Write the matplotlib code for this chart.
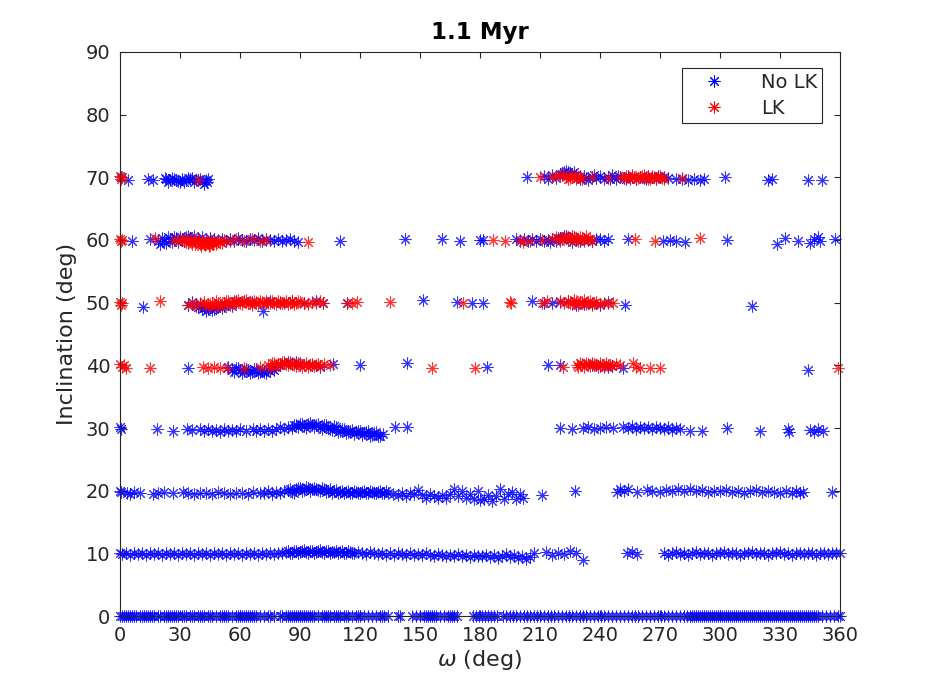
import numpy as np
import matplotlib.pyplot as plt

# (omega, inclination) pairs, one list per band
blue_70 = [(0.5, 70.0), (4, 69.6), (14, 69.7), (16.5, 69.6), (23, 69.8), (25, 69.5), (27, 69.7),
           (29, 69.4), (30, 69.3), (31, 69.8), (33, 69.5), (35, 69.7), (36, 69.9), (37, 69.3),
           (39, 69.6), (41, 69.4), (42, 69.0), (43, 69.5),
           (203.5, 70.1), (212, 70.2), (214, 69.8), (216, 70.4), (218, 69.9), (220, 70.6),
           (222, 70.8), (224, 70.9), (226, 70.6), (228, 70.3), (230, 69.8), (232, 70.2),
           (234, 69.6), (236, 70.1), (238, 69.9), (240, 70.2), (242, 69.7), (244, 70.0),
           (246, 70.3), (248, 69.8), (250, 70.1), (252, 69.9), (254, 70.2), (256, 70.0),
           (258, 69.8), (260, 70.1), (262, 69.9), (264, 70.2), (266, 70.0), (268, 69.8),
           (270, 70.1), (272, 70.0), (274, 69.9), (278, 69.7), (281, 69.8), (284, 69.6),
           (287, 69.7), (290, 69.6), (292, 69.7), (302.5, 70.0), (324, 69.6), (326, 69.8),
           (344, 69.6), (351, 69.6)]
blue_70_dense = [(22.5, 69.9), (24, 69.3), (26, 69.9), (28, 69.6), (32, 69.2), (34, 69.9),
                 (38, 69.5), (40, 69.8), (43.5, 69.2), (44, 69.7),
                 (221, 70.5), (223, 71.0), (225, 70.4), (227, 70.8), (229, 70.1), (233, 69.9),
                 (237, 70.3), (245, 69.7), (249, 70.2), (253, 69.7), (263, 69.8), (269, 70.2)]
red_70 = [(0, 70.2), (0.5, 69.7), (1, 70.0), (39, 69.5), (210, 70.1), (216, 70.0), (220, 70.3),
          (223, 70.1), (225, 69.9), (227, 70.2), (229, 70.0), (231, 69.8), (236, 70.0),
          (244, 69.9), (250, 70.0), (253, 70.2), (255, 69.8), (257, 70.1), (259, 69.9),
          (261, 70.2), (263, 70.0), (265, 69.8), (267, 70.1), (269, 70.0), (271, 69.9),
          (281, 69.9)]
red_70_dense = [(218, 70.2), (222, 70.5), (224, 69.8), (226, 70.4), (228, 69.7), (230, 70.2),
                (252, 69.9), (254, 70.1), (256, 70.3), (258, 69.7), (260, 70.0), (262, 70.3),
                (264, 69.7), (266, 70.2), (268, 69.9), (270, 70.2), (272, 69.8)]

blue_60 = [(6, 59.9), (15, 60.2), (19, 59.8), (21, 60.3), (23, 59.5), (25, 60.1), (27, 60.4),
           (29, 59.7), (31, 60.2), (33, 60.5), (35, 60.3), (37, 60.6), (39, 60.0), (41, 60.4),
           (43, 59.8), (45, 60.3), (47, 60.1), (49, 60.0), (51, 60.2), (53, 59.9), (55, 60.1),
           (57, 59.8), (59, 60.3), (61, 60.0), (63, 59.9), (65, 60.2), (67, 60.0), (69, 60.3),
           (71, 59.9), (73, 60.1), (75, 60.0), (77, 59.8), (79, 60.1), (81, 59.9), (83, 60.0),
           (85, 60.1), (87, 59.8), (89, 59.7), (110, 59.8), (142.5, 60.1), (161, 60.1),
           (170, 59.9), (180, 60.0),
           (181.5, 60.0), (198, 60.1), (200, 59.8), (202, 60.2), (204, 59.9), (206, 60.1),
           (208, 59.8), (210, 60.2), (212, 59.9), (214, 60.0), (216, 60.2), (218, 59.8),
           (220, 60.3), (222, 60.6), (224, 60.4), (226, 59.7), (228, 60.1), (230, 59.8),
           (232, 60.2), (234, 60.0), (236, 59.9), (238, 60.1), (240, 60.2), (242, 59.9),
           (244, 60.1), (254, 60.2), (271.5, 59.9), (275, 60.0), (278, 59.9), (282.5, 59.7),
           (303.5, 60.0), (328.5, 59.4), (332.5, 60.3), (339, 59.8), (345, 59.5), (347, 60.1),
           (349, 60.4), (350, 59.9), (357.5, 60.1)]
blue_60_dense = [(20, 59.4), (22, 59.9), (24, 60.5), (26, 59.6), (28, 60.3), (30, 60.5),
                 (32, 59.9), (34, 60.6), (215, 59.7), (219, 60.3), (221, 60.1), (223, 60.7),
                 (225, 60.1), (227, 60.5)]
red_60 = [(0, 60.1), (0.5, 59.8), (1, 60.0), (17.5, 60.3), (27, 60.0), (29, 59.8), (31, 60.2),
          (33, 59.7), (35, 59.9), (36, 59.4), (37, 60.1), (38, 59.6), (39, 59.8), (40, 59.3),
          (41, 59.7), (42, 59.4), (43, 59.9), (44, 59.5), (45, 59.2), (46, 59.6), (47, 59.9),
          (48, 59.4), (50, 59.7), (52, 60.0), (55, 59.9), (58, 60.1), (62, 59.8), (66, 60.1),
          (70, 59.9), (73, 60.0), (94, 59.7),
          (186.5, 60.0), (192.5, 59.8), (200, 60.0), (201.5, 59.6), (205, 59.9), (211, 60.0),
          (216, 60.1), (218, 60.4), (220, 59.9), (222, 60.5), (224, 60.2), (226, 60.6),
          (228, 60.0), (230, 60.4), (232, 59.8), (234, 60.2), (236, 59.9), (257.5, 60.1),
          (267.5, 59.8), (290, 60.3)]
red_60_dense = [(32, 60.1), (34, 59.5), (35.5, 60.2), (37.5, 59.3), (39.5, 60.0), (40.5, 59.1),
                (41.5, 59.9), (42.5, 59.2), (43.5, 59.6), (44.5, 59.1), (45.5, 59.8),
                (46.5, 59.3), (49, 59.8), (51, 59.5),
                (221, 60.3), (223, 60.7), (225, 60.0), (227, 60.4), (229, 59.8), (231, 60.3),
                (233, 60.6), (235, 60.1)]

blue_50 = [(11.5, 49.3), (34, 49.7), (36, 50.1), (38, 49.5), (40, 49.8), (42, 49.2), (44, 49.0),
           (46, 48.8), (48, 49.2), (50, 49.6), (52, 49.4), (54, 49.8), (56, 49.5), (58, 50.2),
           (62, 50.3), (66, 50.1), (71.5, 48.6), (75, 50.2), (80, 50.0), (86, 50.3), (92, 49.9),
           (98, 50.2), (101.5, 50.0), (113.5, 49.9), (151.5, 50.5), (168.5, 50.1), (176, 50.0),
           (181.7, 50.0), (206, 50.2), (212, 50.0), (216, 49.9), (220, 50.1), (224, 50.3),
           (228, 49.6), (232, 49.8), (236, 50.0), (240, 49.7), (244, 50.1), (252.5, 49.7),
           (316, 49.4)]
blue_50_dense = [(39, 49.3), (41, 49.0), (43, 48.7), (45, 49.3), (47, 49.0), (49, 49.4),
                 (51, 49.1)]
red_50 = [(0, 50.1), (0.5, 49.7), (1, 50.0), (20, 50.2), (34, 49.6), (36, 50.0), (38, 49.4),
          (40, 49.9), (42, 50.1), (44, 49.6), (46, 49.9), (48, 50.2), (50, 49.7), (52, 50.0),
          (54, 50.3), (56, 49.8), (58, 50.1), (60, 49.9), (62, 50.2), (64, 50.0), (66, 49.7),
          (68, 50.1), (70, 50.3), (72, 49.9), (74, 50.0), (76, 50.2), (78, 49.8), (80, 50.1),
          (82, 50.0), (84, 49.8), (86, 50.2), (88, 49.9), (90, 50.1), (92, 50.0), (94, 49.8),
          (96, 50.1), (98, 50.0), (100, 50.2), (101.5, 49.9), (113.5, 50.0), (116, 49.9),
          (118.5, 50.1), (135, 50.1), (171.5, 49.9),
          (195, 50.1), (195.5, 49.9), (211, 49.9), (213.5, 50.2), (220, 50.2), (222, 50.0),
          (224, 50.3), (226, 49.8), (228, 50.2), (230, 49.9), (232, 50.4), (234, 50.0),
          (236, 49.7), (238, 50.1), (240, 49.8), (242, 50.0), (244, 49.9), (246.5, 50.0)]
red_50_dense = [(43, 49.4), (45, 49.8), (47, 49.3), (49, 49.9), (51, 49.5), (53, 50.3),
                (55, 49.7), (57, 50.2), (59, 50.4), (61, 49.8), (63, 50.4), (65, 49.9),
                (67, 50.2), (69, 49.8), (71, 50.1), (73, 50.2), (75, 49.9), (77, 50.0),
                (79, 50.3), (81, 49.9), (83, 50.2), (85, 50.0), (87, 49.8), (89, 50.2),
                (225, 50.0), (227, 50.4), (229, 49.7), (231, 50.1), (233, 49.8), (235, 50.3),
                (237, 49.9)]

blue_40 = [(34, 39.6), (54, 39.7), (56, 39.3), (58, 39.5), (60, 39.2), (62, 39.1), (64, 39.3),
           (66, 38.9), (68, 39.2), (70, 39.0), (72, 38.9), (74, 39.3), (76, 39.5), (78, 39.8),
           (80, 40.1), (82, 40.4), (84, 40.6), (86, 40.2), (88, 40.5), (90, 40.0), (96, 40.1),
           (100, 39.8), (106.5, 40.2), (120, 40.0), (143.5, 40.4),
           (183.5, 39.8), (214, 40.0), (220, 40.0), (236, 40.1), (240, 39.9), (244, 39.7),
           (246, 39.9), (251.5, 39.6), (344, 39.3)]
blue_40_dense = [(57, 38.9), (59, 39.6), (61, 38.8), (63, 39.4), (65, 38.7), (67, 39.4),
                 (69, 38.8), (71, 39.3), (73, 38.7), (75, 39.1), (77, 39.2)]
red_40 = [(0, 40.2), (1, 39.8), (2, 40.0), (3, 39.6), (15, 39.5), (41.5, 39.7), (44, 39.6),
          (47, 39.7), (50, 39.5), (53.5, 39.6), (62, 39.6), (70, 39.8), (74, 40.0), (76, 40.3),
          (78, 39.9), (80, 40.2), (82, 40.5), (84, 40.1), (86, 40.4), (88, 39.9), (90, 40.3),
          (92, 40.1), (94, 39.8), (96, 40.2), (98, 40.0), (100, 39.9), (102, 40.2), (105, 40.0),
          (156, 39.6), (177.5, 39.6),
          (221.5, 39.8), (228.5, 40.0), (230, 40.3), (232, 39.8), (234, 40.2), (236, 40.4),
          (238, 40.0), (240, 40.3), (242, 39.8), (244, 40.1), (246, 39.9), (248, 40.2),
          (250, 40.0), (256.5, 40.4), (258, 39.8), (260, 39.6), (265, 39.5), (270, 39.5),
          (359, 39.6)]
red_40_dense = [(75, 39.6), (77, 40.4), (79, 40.0), (81, 40.6), (83, 40.2), (85, 40.6),
                (87, 40.1), (89, 40.4), (91, 39.8), (93, 40.3), (95, 40.0), (97, 39.9),
                (99, 40.2), (229, 39.7), (231, 40.2), (233, 40.4), (235, 39.9), (237, 40.2),
                (239, 39.8), (241, 40.1), (243, 40.3), (245, 40.0)]

blue_30 = [(0, 30.1), (0.5, 29.9), (18.5, 29.9), (26.5, 29.6), (33.5, 29.8), (36, 29.7),
           (40, 29.8), (42, 29.5), (44, 29.9), (46, 29.6), (48, 29.7), (50, 29.4), (52, 29.8),
           (54, 29.5), (56, 29.7), (58, 29.6), (60, 29.9), (63, 29.5), (66.5, 29.8), (68, 29.6),
           (70, 29.9), (72, 29.5), (74, 29.8), (76, 29.6), (78, 29.9), (80, 30.1), (82, 29.8),
           (84, 30.2), (86, 30.0), (88, 30.4), (90, 30.6), (92, 30.3), (94, 30.7), (96, 30.4),
           (98, 30.5), (100, 30.2), (102, 30.4), (104, 30.0), (106, 29.7), (108, 30.1),
           (110, 29.6), (112, 29.9), (114, 29.4), (116, 29.7), (118, 29.3), (120, 29.6),
           (122, 29.2), (124, 29.5), (126, 28.9), (128, 29.4), (130, 28.7), (131.5, 29.1),
           (137.5, 30.2), (143.5, 30.2),
           (220, 30.0), (226, 29.8), (231.5, 30.0), (234, 30.1), (237, 29.9), (240, 30.0),
           (243, 30.2), (246.5, 30.0), (251.5, 30.2), (254, 30.0), (256, 30.3), (258, 29.9),
           (260, 30.2), (262, 30.0), (264, 30.1), (266, 29.8), (268, 30.1), (270, 30.0),
           (272, 29.9), (274, 30.2), (276, 29.7), (278, 30.0), (280, 29.8), (285, 29.6),
           (291, 29.5), (303.5, 30.0), (320, 29.5), (334, 29.8), (334.5, 29.3), (345, 29.7),
           (347, 29.4), (349, 29.8), (351.5, 29.6)]
blue_30_dense = [(87, 30.5), (89, 30.1), (91, 30.7), (93, 30.0), (95, 30.8), (97, 30.2),
                 (99, 30.6), (101, 29.9), (103, 30.5), (105, 29.9), (107, 30.3), (109, 29.4),
                 (111, 29.8), (113, 29.2), (115, 29.5), (117, 29.0), (119, 29.5), (121, 28.9),
                 (123, 29.3), (125, 28.8), (127, 29.2), (129, 28.8)]

blue_20 = [(0, 20.0), (0.5, 19.8), (3.5, 19.7), (5, 19.5), (7, 19.8), (10, 19.6), (16.5, 19.4),
           (19, 19.6), (22, 19.8), (26.5, 19.7), (31.5, 19.8), (34, 19.6), (37, 19.4), (40, 19.7),
           (43, 19.6), (46, 19.5), (49, 19.8), (52, 19.6), (55, 19.5), (58, 19.7), (61, 19.6),
           (64, 19.4), (66.5, 19.8), (70, 19.7), (72, 19.6), (74, 19.9), (76, 19.5), (78, 19.8),
           (80, 19.6), (82, 19.9), (84, 20.1), (86, 19.8), (88, 20.2), (90, 20.4), (92, 20.1),
           (94, 20.5), (96, 20.2), (98, 20.3), (100, 19.9), (102, 20.2), (104, 20.0),
           (106, 19.7), (108, 20.1), (110, 19.8), (112, 19.6), (114, 19.9), (116, 19.7),
           (118, 19.8), (120, 19.6), (122, 19.9), (124, 19.7), (126, 19.8), (128, 19.6),
           (130, 19.9), (132, 19.7), (134, 19.6), (136.5, 19.5), (139, 19.3), (141, 19.6),
           (143, 19.2), (145, 19.7), (147, 19.4), (149, 20.1), (151, 19.3), (153, 18.9),
           (155, 19.4), (157, 19.1), (159, 18.8), (161, 19.3), (163, 18.9), (165, 19.5),
           (167, 20.2), (169, 19.1), (171, 20.0), (173, 18.8), (175, 19.4), (177, 18.6),
           (179, 19.9), (180, 18.5),
           (182, 18.7), (184, 19.3), (186, 18.4), (188, 19.1), (190, 20.3), (192, 18.7),
           (194, 19.5), (196, 19.8), (198, 18.6), (200, 19.4), (201.5, 18.9), (211, 19.3),
           (227.5, 19.9), (248.5, 19.8), (250, 20.3), (252, 19.9), (254, 20.2), (258.5, 19.8),
           (263.5, 20.1), (266, 19.9), (270, 19.8), (273, 20.1), (276, 19.9), (279, 20.2),
           (282, 20.0), (285, 20.2), (288, 19.9), (291, 20.1), (294, 19.8), (297, 20.0),
           (300, 19.9), (303, 20.1), (306, 19.8), (309, 20.0), (312, 19.7), (315, 19.9),
           (318, 20.1), (321, 19.8), (324, 20.0), (327, 19.8), (330, 19.6), (333, 19.9),
           (336, 19.7), (338, 19.9), (340, 19.6), (341.5, 19.8), (356, 19.8)]
blue_20_dense = [(85, 20.3), (87, 19.7), (89, 20.4), (91, 20.0), (93, 20.6), (95, 19.9),
                 (97, 20.4), (99, 20.1), (101, 20.4), (103, 19.8), (105, 20.2), (107, 19.9),
                 (109, 19.7), (111, 20.0), (113, 19.8), (115, 19.6), (117, 20.0), (119, 19.7),
                 (121, 19.8), (123, 19.6), (125, 19.9), (127, 19.7), (129, 19.8), (131, 19.6),
                 (133, 19.9)]

blue_10 = [(0, 10.0), (1, 9.9), (3, 10.0), (5, 9.8), (7, 10.1), (9, 9.9), (11, 10.0), (13, 9.8),
           (15, 10.1), (17, 9.9), (19, 10.0), (21, 9.8), (23, 10.1), (25, 9.9), (27, 10.0),
           (29, 9.8), (31, 10.1), (33, 9.9), (35, 10.0), (37, 9.8), (39, 10.1), (41, 9.9),
           (43, 10.0), (45, 9.8), (47, 10.1), (49, 9.9), (51, 10.0), (53, 9.8), (55, 10.1),
           (57, 9.9), (59, 10.0), (61, 9.8), (63, 10.1), (65, 9.9), (67, 10.0), (69, 9.8),
           (71, 10.1), (73, 9.9), (75, 10.0), (77, 9.9), (79, 10.1), (81, 10.0), (83, 10.2),
           (85, 10.1), (87, 10.3), (89, 10.1), (91, 10.4), (93, 10.2), (95, 10.3), (97, 10.1),
           (99, 10.4), (101, 10.2), (103, 10.3), (105, 10.1), (107, 10.2), (109, 10.0),
           (111, 10.3), (113, 10.1), (115, 10.2), (117, 10.0), (119, 10.2), (121, 10.1),
           (123, 9.9), (125, 10.2), (127, 10.0), (129, 9.9), (131, 10.1), (133, 9.8),
           (135, 10.0), (137, 9.8), (139, 10.1), (141, 9.9), (143, 9.7), (145, 10.0),
           (147, 9.8), (149, 9.9), (151, 9.7), (153, 10.0), (155, 9.8), (157, 9.6), (159, 9.9),
           (161, 9.7), (163, 9.5), (165, 9.8), (167, 9.6), (169, 9.9), (171, 9.5), (173, 9.7),
           (175, 9.4), (177, 9.8), (179, 9.6),
           (181, 9.5), (183, 9.8), (185, 9.4), (187, 9.7), (189, 9.3), (191, 9.6), (193, 9.9),
           (195, 9.4), (197, 9.7), (199, 9.2), (201, 9.5), (203, 9.1), (205, 9.4), (207, 10.1),
           (213, 10.2), (216, 9.8), (219, 10.0), (222, 9.9), (225, 10.3), (228, 10.0),
           (231.5, 9.0), (253.5, 10.0), (256, 10.2), (258.5, 9.9), (272, 10.1), (274, 9.8),
           (276, 10.0), (278, 10.2), (280, 9.9), (282, 10.1), (284, 9.8), (286, 10.0),
           (288, 10.2), (290, 9.9), (292, 10.1), (294, 10.0), (296, 9.8), (298, 10.1),
           (300, 10.0), (302, 10.2), (304, 9.9), (306, 10.1), (308, 10.0), (310, 9.8),
           (312, 10.1), (314, 10.0), (316, 10.2), (318, 9.9), (320, 10.1), (322, 10.0),
           (324, 9.8), (326, 10.1), (328, 10.0), (330, 10.2), (332, 9.9), (334, 10.0),
           (336, 9.8), (338, 10.1), (340, 10.0), (342, 9.9), (344, 10.1), (346, 10.0),
           (348, 9.8), (350, 10.1), (352, 10.0), (354, 9.9), (356, 10.1), (358, 10.0),
           (360, 10.0)]
blue_10_dense = [(84, 10.4), (86, 10.0), (88, 10.4), (90, 10.2), (92, 10.5), (94, 10.1),
                 (96, 10.4), (98, 10.2), (100, 10.5), (102, 10.1), (104, 10.4), (106, 10.2),
                 (108, 10.4), (110, 10.2), (112, 10.0), (114, 10.3), (116, 10.1)]

# the lowest band sits exactly on zero inclination
omega_0 = [0, 1, 2, 3, 4, 5, 6, 7, 8, 10, 11, 12, 13, 14, 15, 16, 17, 19, 20, 22, 23, 24, 25,
           26, 27, 28, 29, 31, 32, 33, 35, 36, 37, 39, 40, 41, 42, 44, 45, 46, 48, 50, 51, 52,
           53, 54, 56, 58, 59, 60, 61, 62, 63, 64, 65, 66, 67, 68, 70, 72, 74, 75, 77, 80, 81,
           83, 84, 85, 86, 87, 88, 89, 90, 91, 92, 93, 94, 95, 96, 97, 99, 101, 102, 103, 104,
           105, 107, 108, 109, 110, 112, 113, 114, 116, 118, 119, 120, 122, 124, 126, 128, 130,
           131, 132, 134, 139, 140, 146, 148, 150, 152, 153, 154, 155, 156, 157, 158, 160, 162,
           164, 165, 166, 167, 168.5,
           176.5, 178, 179.5, 181, 182.5, 184, 185.5, 187, 188.5, 191.5, 193, 195, 196.5, 198,
           200, 202, 203.5, 205, 207, 208.5, 210, 212, 214, 215.5, 217, 219, 221, 223, 224.5,
           226, 228, 230, 231.5, 233, 235, 237, 239, 240.5, 242, 244, 246, 248, 250, 252, 254,
           256, 257.5, 259, 261, 263, 265, 267, 269, 270.5, 272, 274, 276, 278, 280, 282, 283.5,
           285, 286, 287, 288, 289, 290, 291, 292, 293, 294, 295, 296, 297, 298, 299, 300, 301,
           302, 303, 304, 305, 306, 307, 308, 309, 310, 311, 312, 313, 314, 315, 316, 317, 318,
           319, 320, 321, 322, 323, 324, 325, 326, 327, 328, 329, 330, 331, 332, 333, 334, 335,
           336, 337, 338, 339, 340, 341, 342, 343, 344, 345, 346, 347, 348, 349, 351, 353, 355,
           357, 359, 360]
incl_0 = 0.0

plot_title = '1.1 Myr'
legend_labels = ['No LK', 'LK']

blue = np.array(blue_70 + blue_70_dense + blue_60 + blue_60_dense + blue_50 + blue_50_dense
                + blue_40 + blue_40_dense + blue_30 + blue_30_dense + blue_20 + blue_20_dense
                + blue_10 + blue_10_dense)
red = np.array(red_70 + red_70_dense + red_60 + red_60_dense + red_50 + red_50_dense
               + red_40 + red_40_dense)
w0 = np.array(omega_0, dtype=float)

dark = (0.15, 0.15, 0.15)
plt.rcParams['font.family'] = 'DejaVu Sans'

fig = plt.figure(figsize=(9.28, 6.92), dpi=100)
ax = fig.add_axes([0.1293, 0.1098, 0.7759, 0.8151])

star = (8, 2, 0)
mkw = dict(linestyle='None', marker=star, markersize=8.5, markeredgewidth=0.75,
           alpha=0.8, clip_on=False)

ax.plot(w0, np.full_like(w0, incl_0), color='blue', **mkw)
ax.plot(blue[:, 0], blue[:, 1], color='blue', label=legend_labels[0], **mkw)
ax.plot(red[:, 0], red[:, 1], color='red', label=legend_labels[1], **mkw)

ax.set_xlim(0, 360)
ax.set_ylim(0, 90)
ax.set_xticks(np.arange(0, 361, 30))
ax.set_yticks(np.arange(0, 91, 10))
ax.tick_params(direction='in', length=4, width=0.8, top=True, right=True,
               labelsize=14, colors=dark)
ax.tick_params(axis='x', pad=7)
ax.tick_params(axis='y', pad=7)
for s in ax.spines.values():
    s.set_color(dark)
    s.set_linewidth(0.8)

ax.set_xlabel(r'$\omega$ (deg)', fontsize=16, color=dark, labelpad=2)
ax.set_ylabel('Inclination (deg)', fontsize=16, color=dark, labelpad=6)
ax.set_title(plot_title, fontsize=16.5, fontweight='bold', color='black', pad=9)

leg = ax.legend(loc='upper right', bbox_to_anchor=(0.975, 0.9716), borderaxespad=0,
                fontsize=14, fancybox=False, framealpha=1, edgecolor=dark,
                handlelength=2.8, handletextpad=1.0, borderpad=0.25, labelspacing=0.35)
for h in leg.legend_handles:
    h.set_alpha(1)
for t in leg.get_texts():
    t.set_color(dark)
leg.get_frame().set_linewidth(0.8)

fig.savefig('out.png', dpi=100)
